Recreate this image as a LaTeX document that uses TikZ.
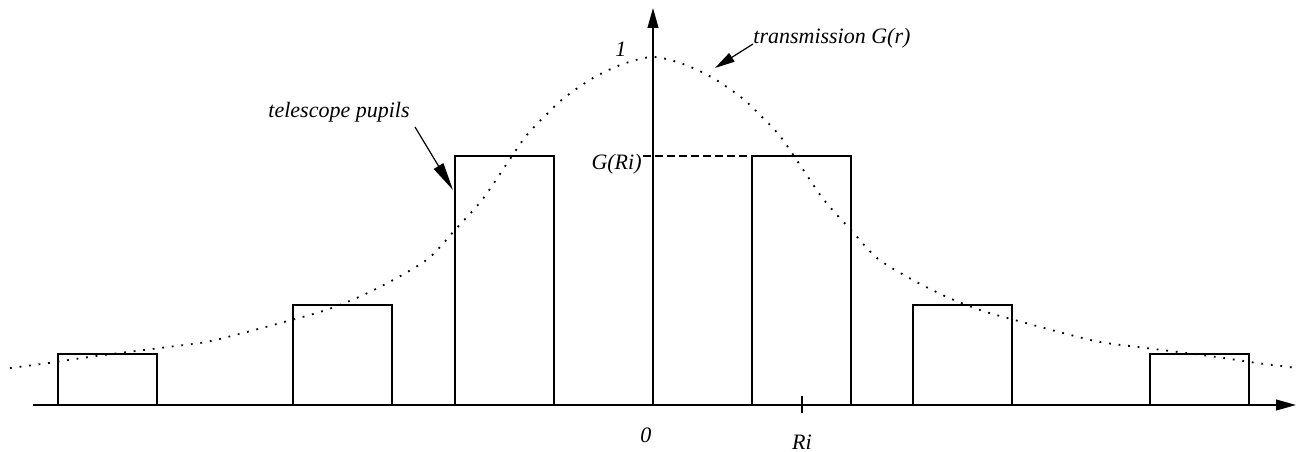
\documentclass[tikz,border=0pt]{standalone}
\usepackage{fontspec}
\setmainfont{Liberation Serif}
\usetikzlibrary{arrows.meta}

\begin{document}
\begin{tikzpicture}[x=0.5pt,y=0.5pt,
  pupil/.style={draw, line width=0.8pt},
  axisline/.style={line width=0.8pt, -{Triangle[length=10pt, width=5.4pt]}},
  pointer/.style={line width=0.6pt, -{Triangle[length=10pt, width=5pt]}},
  lbl/.style={font=\fontsize{11}{13}\selectfont\itshape, inner sep=0pt}]
\useasboundingbox (-653,-46) rectangle (644,405);
\coordinate (o) at (0,0);
\coordinate (xl) at (-620,0);
\coordinate (xr) at (643,0);
\coordinate (yt) at (0,397);
\foreach \l/\h in {-595/51, -360/100, -198/249, 99/249, 260/100, 497/51}
  \draw[pupil] (\l,0) rectangle ++(99,\h);
\draw[axisline] (xl) -- (xr);
\draw[axisline] (o) -- (yt);
\draw[line width=0.9pt, dash pattern=on 0.9pt off 3.9pt] plot[smooth] coordinates {
  (-643,37) (-604,42) (-564,48) (-525,53) (-485,58) (-447,63) (-410,72) (-369,83)
  (-330,94) (-294,108) (-258,126) (-224,147) (-198,175) (-171,205) (-147,240)
  (-127,269) (-107,290) (-89,307) (-60,327) (-30,341) (0,348)
  (30,341) (60,327) (89,307) (107,290) (127,269) (147,240) (171,205) (198,175)
  (224,147) (258,126) (294,108) (330,94) (369,83) (410,72) (447,63) (485,58)
  (525,53) (564,48) (604,42) (644,37)};
\coordinate (gdash) at (-10,249);
\coordinate (ritop) at (99,249);
\draw[line width=0.6pt, dash pattern=on 4pt off 2pt] (gdash) -- (ritop);
\coordinate (tickt) at (149,9);
\coordinate (tickb) at (149,-8);
\draw[line width=0.6pt] (tickt) -- (tickb);
\node[lbl, anchor=base] (one) at (-32,348) {1};
\node[lbl, anchor=base west] (trans) at (100,361) {transmission G(r)};
\coordinate (transtip) at (62,337);
\draw[pointer] (trans.base west) -- (transtip);
\node[lbl, anchor=base east] (pupils) at (-243,287) {telescope pupils};
\coordinate (pupiltip) at (-200,215);
\draw[pointer, -{Triangle[length=14pt, width=5.5pt]}] ([xshift=2.5pt,yshift=-4.5pt]pupils.base east) -- (pupiltip);
\node[lbl, anchor=base east] (gri) at (-11,235) {G(Ri)};
\node[lbl, anchor=base] (zero) at (-7,-37) {0};
\node[lbl, anchor=base] (ri) at (149,-44) {Ri};
\end{tikzpicture}
\end{document}
